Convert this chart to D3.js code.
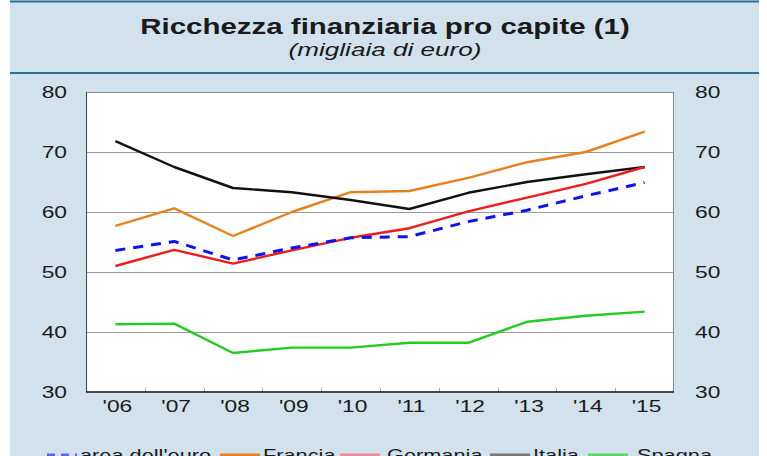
<!DOCTYPE html>
<head>
  <title>Ricchezza finanziaria pro capite</title>
</head>
<style>
html, body {
  width: 100%;
  height: 100%;
  padding: 0;
  margin: 0;
  background: #ffffff;
}
svg text {
  font-family: "Liberation Sans", Arial, sans-serif;
  fill: #1a1a1a;
}
</style>

<svg id="chart" width="767" height="456"></svg>

<script src="https://d3js.org/d3.v7.min.js"></script>
<script>
// years on the x axis
var years = ["'06", "'07", "'08", "'09", "'10", "'11", "'12", "'13", "'14", "'15"];

// thousands of euro per capita
var areaEuro = [53.6, 55.1, 52.0, 54.0, 55.7, 55.9, 58.4, 60.3, 62.7, 64.9];
var francia  = [57.7, 60.6, 56.0, 60.0, 63.3, 63.5, 65.7, 68.3, 70.0, 73.4];
var germania = [51.0, 53.7, 51.4, 53.6, 55.7, 57.3, 60.1, 62.4, 64.7, 67.5];
var italia   = [71.8, 67.5, 64.0, 63.3, 62.0, 60.5, 63.2, 65.0, 66.3, 67.5];
var spagna   = [41.3, 41.4, 36.5, 37.4, 37.4, 38.2, 38.2, 41.7, 42.7, 43.4];

var yTicks = [30, 40, 50, 60, 70, 80];

var series = [
  {name: "area dell'euro", values: areaEuro, color: "#0a14f0", key: "#5a64f5", dash: "10,8", width: 3},
  {name: "Francia",  values: francia,  color: "#e8801e", key: "#e8801e", dash: null, width: 2.4},
  {name: "Germania", values: germania, color: "#f21a1a", key: "#f08a9a", dash: null, width: 2.4},
  {name: "Italia",   values: italia,   color: "#111111", key: "#777777", dash: null, width: 2.4},
  {name: "Spagna",   values: spagna,   color: "#22cc22", key: "#5cd65c", dash: null, width: 2.4}
];

// the original type is drawn wider than Liberation Sans
var stretch = 1.38;

var svg = d3.select("#chart");

// panel background and frame lines
svg.append("rect")
  .attr("x", 10).attr("y", 0).attr("width", 749).attr("height", 456)
  .attr("fill", "#d1e2ec");
svg.append("line")
  .attr("x1", 10).attr("x2", 759).attr("y1", 1.5).attr("y2", 1.5)
  .attr("stroke", "#2f6f99").attr("stroke-width", 2);
svg.append("line")
  .attr("x1", 10).attr("x2", 759).attr("y1", 73).attr("y2", 73)
  .attr("stroke", "#2f6f99").attr("stroke-width", 2);

// title
svg.append("text")
  .attr("transform", "translate(385,34) scale(1.34,1)")
  .attr("text-anchor", "middle")
  .attr("font-size", 22).attr("font-weight", "bold")
  .text("Ricchezza finanziaria pro capite (1)");
svg.append("text")
  .attr("transform", "translate(385,56) scale(1.45,1)")
  .attr("text-anchor", "middle")
  .attr("font-size", 18).attr("font-style", "italic")
  .text("(migliaia di euro)");

var margin = {left: 86, right: 674, top: 92, bottom: 392};

var x = d3.scaleBand()
  .domain(years)
  .range([margin.left, margin.right]);

var y = d3.scaleLinear()
  .domain([30, 80])
  .range([margin.bottom, margin.top]);

// plot area
svg.append("rect")
  .attr("x", margin.left).attr("y", margin.top)
  .attr("width", margin.right - margin.left)
  .attr("height", margin.bottom - margin.top)
  .attr("fill", "#ffffff");

// grid lines
svg.append("g")
  .selectAll("line")
  .data(yTicks.slice(1, -1))
  .enter().append("line")
    .attr("x1", margin.left).attr("x2", margin.right)
    .attr("y1", function(d) { return y(d) + 0.5; })
    .attr("y2", function(d) { return y(d) + 0.5; })
    .attr("stroke", "#9a9a9a").attr("stroke-width", 1);

// small ticks between years
svg.append("g")
  .selectAll("line")
  .data(years.slice(1))
  .enter().append("line")
    .attr("x1", function(d) { return Math.round(x(d)) + 0.5; })
    .attr("x2", function(d) { return Math.round(x(d)) + 0.5; })
    .attr("y1", margin.bottom).attr("y2", margin.bottom - 4)
    .attr("stroke", "#aaaaaa").attr("stroke-width", 1);

// frame
svg.append("line")
  .attr("x1", margin.left).attr("x2", margin.right)
  .attr("y1", margin.top + 0.5).attr("y2", margin.top + 0.5)
  .attr("stroke", "#888888");
svg.append("line")
  .attr("x1", margin.right - 0.5).attr("x2", margin.right - 0.5)
  .attr("y1", margin.top).attr("y2", margin.bottom)
  .attr("stroke", "#888888");
svg.append("line")
  .attr("x1", margin.left + 0.5).attr("x2", margin.left + 0.5)
  .attr("y1", margin.top).attr("y2", margin.bottom)
  .attr("stroke", "#444444");
svg.append("line")
  .attr("x1", margin.left).attr("x2", margin.right)
  .attr("y1", margin.bottom).attr("y2", margin.bottom)
  .attr("stroke", "#111111").attr("stroke-width", 1.5);

// axes labels through d3 axes
var leftAxis = svg.append("g")
  .attr("transform", "translate(" + (margin.left - 19) + ",0)")
  .call(d3.axisLeft(y).tickValues(yTicks).tickSize(0).tickPadding(0));
var rightAxis = svg.append("g")
  .attr("transform", "translate(" + (margin.right + 21) + ",0)")
  .call(d3.axisRight(y).tickValues(yTicks).tickSize(0).tickPadding(0));
var bottomAxis = svg.append("g")
  .attr("transform", "translate(2," + (margin.bottom + 8) + ")")
  .call(d3.axisBottom(x).tickSize(0).tickPadding(0));

[leftAxis, rightAxis, bottomAxis].forEach(function(a) {
  a.select(".domain").remove();
  a.selectAll("text")
    .attr("font-family", "'Liberation Sans', Arial, sans-serif")
    .attr("font-size", 16.5)
    .attr("fill", "#1a1a1a")
    .attr("transform", "scale(" + stretch + ",1)");
});

// series lines
var line = d3.line()
  .x(function(d, i) { return x(years[i]) + x.bandwidth() / 2; })
  .y(function(d) { return y(d); });

var order = [4, 1, 3, 2, 0];
order.forEach(function(k) {
  var s = series[k];
  svg.append("path")
    .datum(s.values)
    .attr("d", line)
    .attr("fill", "none")
    .attr("stroke", s.color)
    .attr("stroke-width", s.width)
    .attr("stroke-dasharray", s.dash)
    .attr("stroke-linejoin", "round");
});

// legend (cut off at the bottom edge as in the original)
var legendX = [47, 220, 340, 490, 588];
var legendText = [80, 263, 387, 533, 637];
var legend = svg.append("g");
series.forEach(function(s, i) {
  legend.append("line")
    .attr("x1", legendX[i]).attr("x2", legendX[i] + (i == 0 ? 30 : 40))
    .attr("y1", 455).attr("y2", 455)
    .attr("stroke", s.key)
    .attr("stroke-width", 3)
    .attr("stroke-dasharray", s.dash ? "8,6" : null);
  legend.append("text")
    .attr("transform", "translate(" + legendText[i] + ",461) scale(1.28,1)")
    .attr("font-size", 17)
    .text(s.name);
});
</script>
